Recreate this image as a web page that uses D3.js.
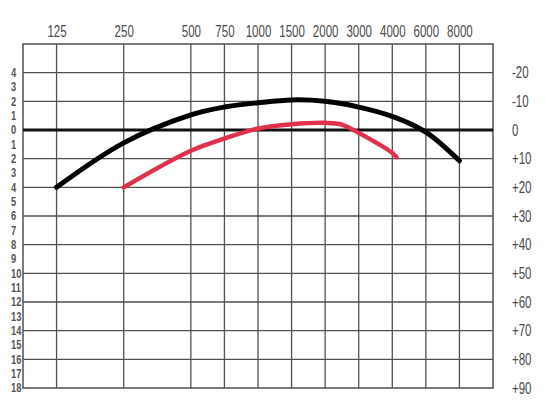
<!DOCTYPE html>
<html><head><meta charset="utf-8">
<script src="https://cdn.jsdelivr.net/npm/d3@7"></script>
<style>
html,body{margin:0;padding:0;background:#fff;}
svg{display:block;}
text{font-family:"Liberation Sans",Arial,sans-serif;fill:#4a4a4a;}
</style></head>
<body>
<svg id="chart" width="545" height="411"></svg>
<script>
// Frequencies (Hz) shown on the top axis, with their column index on the chart grid
const freqTicks = [125, 250, 500, 750, 1000, 1500, 2000, 3000, 4000, 6000, 8000];
const freqColumns = [1, 3, 5, 6, 7, 8, 9, 10, 11, 12, 13];
// Left scale ticks (shown as absolute values), right scale ticks
const leftTicks = d3.range(-4, 19, 1);
const rightTicks = [-20, -10, 0, 10, 20, 30, 40, 50, 60, 70, 80, 90];
// Black curve
const blackFreq = [125, 250, 500, 750, 1000, 1500, 2000, 3000, 4000, 6000, 8000];
const blackVal  = [4.0, 0.9, -1.05, -1.6, -1.9, -2.1, -2.0, -1.6, -0.95, 0.15, 2.15];
// Red curve
const redFreq = [250, 500, 750, 1000, 1500, 2000, 2500, 3000, 4000, 4250];
const redVal  = [4.0, 1.45, 0.6, -0.1, -0.4, -0.5, -0.38, 0.2, 1.6, 1.9];

const L = 23, R = 493, T = 44, B = 388, nCols = 14;
const svg = d3.select("#chart");

const col = d3.scaleLinear().domain([0, nCols]).range([L, R]);
const x = d3.scaleLinear().domain(freqTicks).range(freqColumns.map(c => col(c)));
const y = d3.scaleLinear().domain([-6, 18]).range([T, B]);
const yR = d3.scaleLinear().domain([-30, 90]).range([T, B]);

// grid
const grid = svg.append("g").attr("stroke", "#505050").attr("stroke-width", 1.3);
grid.selectAll("line.v").data(freqTicks).join("line")
  .attr("x1", d => x(d)).attr("x2", d => x(d)).attr("y1", T).attr("y2", B);
grid.selectAll("line.h").data(d3.range(-4, 18, 2)).join("line")
  .attr("x1", L).attr("x2", R).attr("y1", d => y(d)).attr("y2", d => y(d));
svg.append("rect").attr("x", L).attr("y", T).attr("width", R - L).attr("height", B - T)
  .attr("fill", "none").attr("stroke", "#505050").attr("stroke-width", 1.5);
// zero line
svg.append("line").attr("x1", L).attr("x2", R).attr("y1", y(0)).attr("y2", y(0))
  .attr("stroke", "#111").attr("stroke-width", 3);

// axes
const topAxis = svg.append("g").attr("transform", `translate(0,${T})`)
  .call(d3.axisTop(x).tickValues(freqTicks).tickFormat(d3.format("d")).tickSize(0).tickPadding(7));
topAxis.select(".domain").remove();
topAxis.selectAll("text").attr("font-size", 16).attr("transform", "scale(0.72,1)");

const rightAxis = svg.append("g").attr("transform", `translate(${R},0)`)
  .call(d3.axisRight(yR).tickValues(rightTicks)
    .tickFormat(d => d > 0 ? "+" + d : d < 0 ? "-" + Math.abs(d) : "0").tickSize(0).tickPadding(19));
rightAxis.select(".domain").remove();
rightAxis.selectAll("text").attr("font-size", 16).attr("transform", "scale(0.72,1)")
  .attr("x", 19 / 0.72);

const leftAxis = svg.append("g").attr("transform", `translate(${L},0)`)
  .call(d3.axisLeft(y).tickValues(leftTicks).tickFormat(d => Math.abs(d)).tickSize(0));
leftAxis.select(".domain").remove();
leftAxis.selectAll("text").attr("font-size", 12).attr("text-anchor", "start")
  .attr("x", -12 / 0.78).attr("transform", "scale(0.78,1)").attr("font-weight", "bold")
  .style("fill", "#555");
svg.selectAll("g.tick").select("line").remove();
svg.selectAll("g").attr("font-family", null).attr("fill", null);

// curves
const line = d3.line().x(d => x(d[0])).y(d => y(d[1])).curve(d3.curveCatmullRom.alpha(0.5));
svg.append("path").datum(d3.zip(redFreq, redVal)).attr("d", line)
  .attr("fill", "none").attr("stroke", "#e0304c").attr("stroke-width", 4.5).attr("stroke-linecap", "round");
svg.append("path").datum(d3.zip(blackFreq, blackVal)).attr("d", line)
  .attr("fill", "none").attr("stroke", "#000").attr("stroke-width", 5).attr("stroke-linecap", "round");
</script>
</body></html>
